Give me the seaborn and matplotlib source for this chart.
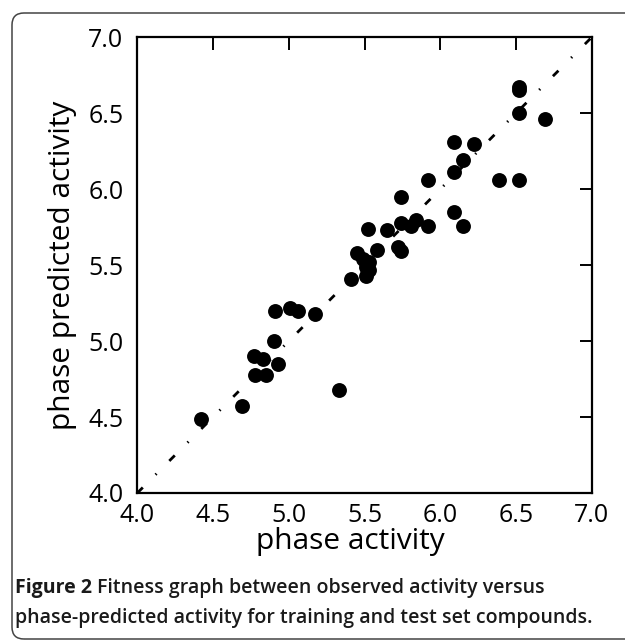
import matplotlib
matplotlib.use("Agg")
import matplotlib.pyplot as plt
from matplotlib.patches import FancyBboxPatch
import seaborn as sns
import pandas as pd

# observed (x) vs phase predicted (y) activity
observed = [6.52, 6.52, 6.52, 6.69, 6.09, 6.22, 6.15, 6.09, 5.92, 6.39, 6.52,
            5.74, 6.09, 6.15, 5.92, 5.84, 5.81, 5.74, 5.65, 5.52, 5.58, 5.72,
            5.74, 5.45, 5.49, 5.53, 5.51, 5.53, 5.51, 5.41, 4.91, 5.01, 5.06,
            5.17, 4.90, 4.77, 4.83, 4.93, 4.78, 4.85, 5.33, 4.69, 4.42]
predicted = [6.67, 6.65, 6.50, 6.46, 6.31, 6.30, 6.19, 6.11, 6.06, 6.06, 6.06,
             5.95, 5.85, 5.76, 5.76, 5.80, 5.76, 5.78, 5.73, 5.74, 5.60, 5.62,
             5.59, 5.58, 5.54, 5.52, 5.49, 5.47, 5.43, 5.41, 5.20, 5.22, 5.20,
             5.18, 5.00, 4.90, 4.88, 4.85, 4.78, 4.78, 4.68, 4.57, 4.49]
ticks = [4.0, 4.5, 5.0, 5.5, 6.0, 6.5, 7.0]
axis_range = [4.0, 7.0]

df = pd.DataFrame({"phase activity": observed, "phase predicted activity": predicted})

sns.set_style("white")
plt.rcParams['font.family'] = ['Open Sans', 'DejaVu Sans']
plt.rcParams['text.color'] = 'black'
plt.rcParams['axes.labelcolor'] = 'black'
plt.rcParams['xtick.color'] = 'black'
plt.rcParams['ytick.color'] = 'black'

fig = plt.figure(figsize=(6.25, 6.41), dpi=100)
ax = fig.add_axes([0.2197, 0.2309, 0.727, 0.7109])

# identity line
ax.plot(axis_range, axis_range, color="black", lw=2, dashes=(2.8, 6.5, 0.5, 6.5), zorder=1)
sns.scatterplot(data=df, x="phase activity", y="phase predicted activity", ax=ax,
                color="black", s=115, linewidth=0, zorder=2)

ax.set_xlim(axis_range)
ax.set_ylim(axis_range)
ax.set_xticks(ticks)
ax.set_yticks(ticks)
ax.set_xticklabels([f"{t:.1f}" for t in ticks])
ax.set_yticklabels([f"{t:.1f}" for t in ticks])
ax.tick_params(direction="in", length=9, width=1.4, labelsize=18, color="black",
               top=True, right=True, pad=10)
ax.tick_params(axis="x", pad=7)
for sp in ax.spines.values():
    sp.set_color("black")
    sp.set_linewidth(1.6)
ax.set_xlabel("phase activity", fontsize=21.5, labelpad=4)
ax.set_ylabel("phase predicted activity", fontsize=21.5, labelpad=8)
ax.xaxis.set_label_coords(0.47, -0.075)

# caption
cap_size = 14
t1 = fig.text(15 / 625, 1 - 588 / 641, "Figure 2", fontsize=cap_size, fontweight="bold",
              va="center", ha="left", color="#1a1a1a")
fig.canvas.draw()
bb = t1.get_window_extent()
fig.text((bb.x1 + 5) / 625, 1 - 588 / 641, "Fitness graph between observed activity versus",
         fontsize=cap_size, fontweight="semibold", va="center", ha="left", color="#1a1a1a")
fig.text(15 / 625, 1 - 618 / 641,
         "phase-predicted activity for training and test set compounds.",
         fontsize=cap_size, fontweight="semibold", va="center", ha="left", color="#1a1a1a")

# rounded frame around the figure panel
frame = FancyBboxPatch((0.12, 0.02), 6.4, 6.26, boxstyle="round,pad=0,rounding_size=0.12",
                       transform=fig.dpi_scale_trans, fill=False, edgecolor="#444444",
                       lw=1.1, clip_on=False)
fig.patches.append(frame)

fig.savefig("out.png", dpi=100)
